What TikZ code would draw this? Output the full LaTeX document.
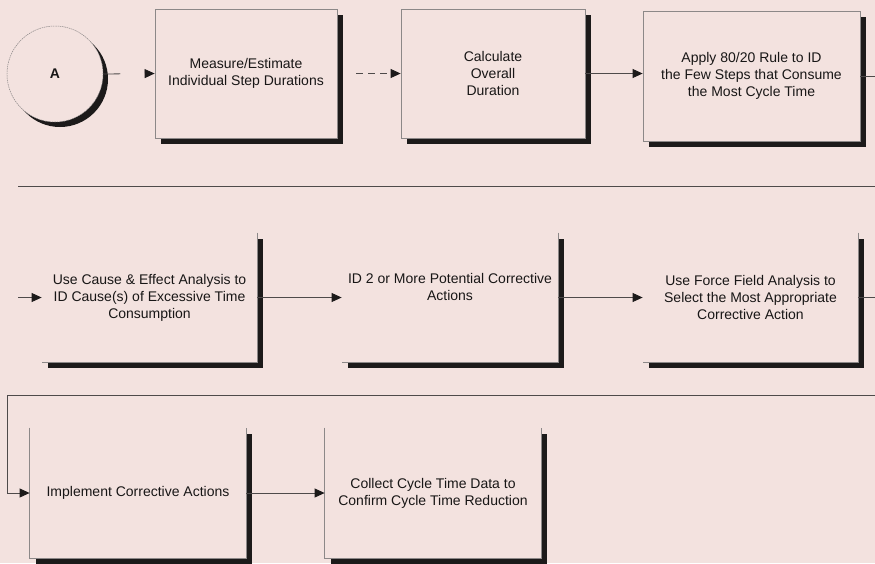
\documentclass[tikz,border=0pt]{standalone}
\usepackage{fontspec}
\setmainfont{Liberation Sans}
\usetikzlibrary{arrows.meta,shadows}
\definecolor{bg}{RGB}{243,226,223}
\definecolor{frame}{RGB}{140,136,136}
\definecolor{wire}{RGB}{78,74,74}
\definecolor{shade}{RGB}{28,26,26}
\definecolor{ink}{RGB}{24,22,22}
\begin{document}
\begin{tikzpicture}[x=1pt,y=-1pt,
  txt/.style={font=\fontsize{14}{17}\selectfont, text=ink, align=center},
  card/.style={txt, fill=bg, inner sep=0pt, minimum width=#1, minimum height=129pt,
    line width=0.8pt,
    drop shadow={shadow xshift=6pt, shadow yshift=-6pt, fill=shade, opacity=1}},
  circ/.style={txt, circle, fill=bg, draw=frame, line width=0.5pt,
    dash pattern=on 1.5pt off 0.8pt, minimum size=96pt, inner sep=0pt,
    drop shadow={shadow xshift=5pt, shadow yshift=-5pt, fill=shade, opacity=1}},
  edge/.style={draw=frame, line width=0.8pt},
  plain/.style={draw=wire, line width=0.8pt},
  flow/.style={plain, -{Triangle[length=10pt,width=9pt,color=shade,fill=shade]}}]

% canvas
\fill[bg] (0,0) rectangle (875,563);
\useasboundingbox (0,0) rectangle (875,563);

% first row
\node[circ] (A) at (55,74) {\bfseries A};
\node[card=182pt, draw=frame] (b1) at (246,73.5) {Measure/Estimate\\Individual Step Durations};
\node[card=184pt, draw=frame] (b2) at (493,73.5) {Calculate\\Overall\\Duration};
\node[card=217pt, minimum height=130pt, draw=frame] (b3) at (751.5,76)
  {Apply 80/20 Rule to ID\\the Few Steps that Consume\\the Most Cycle Time};

% second row (only right and bottom edges are outlined)
\node[card=215pt] (b4) at (149.5,297.5)
  {Use Cause \& Effect Analysis to\\ID Cause(s) of Excessive Time\\Consumption};
\node[card=216pt] (b5) at (450,297.5)
  {ID 2 or More Potential Corrective\\Actions\\\strut};
\node[card=215pt] (b6) at (750.5,297.5)
  {Use Force Field Analysis to\\Select the Most Appropriate\\Corrective Action};
\foreach \b in {b4,b5,b6}
  \draw[edge] (\b.north east) -- (\b.south east) -- (\b.south west);

% third row (left, bottom and right edges outlined)
\node[card=216pt, minimum height=130pt] (b7) at (138,493) {Implement Corrective Actions};
\node[card=216pt, minimum height=130pt] (b8) at (433,493)
  {Collect Cycle Time Data to\\Confirm Cycle Time Reduction};
\foreach \b in {b7,b8}
  \draw[edge] (\b.north west) -- (\b.south west) -- (\b.south east) -- (\b.north east);

% free ends of the connectors
\coordinate (rim) at (875,0);
\coordinate (s1) at (18,186);
\coordinate (s2) at (875,186);
\coordinate (in4) at (18,297.5);
\coordinate (s3) at (875,395);
\coordinate (turn) at (7,395);

% connectors
\draw[flow, dash pattern=on 17pt off 40pt] (A.east) -- (b1.west);
\draw[flow, dash pattern=on 7pt off 5pt, shorten <=19pt] (b1.east) -- (b2.west);
\draw[flow] (b2.east) -- (b2.east -| b3.west);
\draw[plain] (b3.east) -- (b3.east -| rim);
\draw[plain] (s1) -- (s2);
\draw[flow] (in4) -- (b4.west);
\draw[flow] (b4.east) -- (b5.west);
\draw[flow] (b5.east) -- (b6.west);
\draw[plain] (b6.east) -- (b6.east -| rim);
\draw[flow] (s3) -- (turn) |- (b7.west);
\draw[flow] (b7.east) -- (b8.west);
\end{tikzpicture}
\end{document}
